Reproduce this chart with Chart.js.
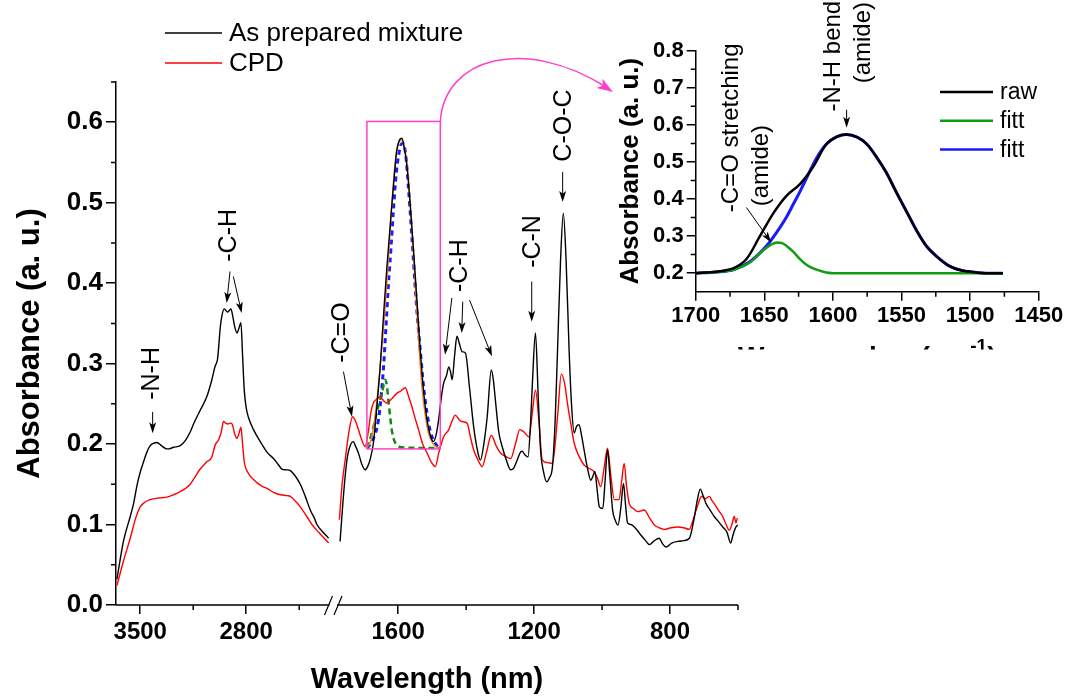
<!DOCTYPE html>
<html>
<head>
<meta charset="utf-8">
<script src="https://cdn.jsdelivr.net/npm/chart.js@4.4.1/dist/chart.umd.min.js"></script>
<style>
  html, body { margin: 0; padding: 0; background: #fff; }
  #wrap { position: relative; width: 1067px; height: 697px; }
  #wrap canvas { position: absolute; left: 0; top: 0; }
</style>
</head>
<body>
<div id="wrap">
  <canvas id="mainChart" width="1067" height="697"></canvas>
  <canvas id="insetChart" width="1067" height="697"></canvas>
</div>
<script>
const FONT = '"Liberation Sans", Arial, sans-serif';

// spectra, [wavenumber, absorbance]
const mixtureHigh = [[3654,0.032],[3610,0.08],[3566,0.11],[3544,0.126],[3520,0.15],[3500,0.165],[3478,0.178],[3456,0.19],[3434,0.198],[3412,0.201],[3390,0.202],[3360,0.198],[3324,0.194],[3313,0.194],[3280,0.196],[3236,0.198],[3200,0.205],[3170,0.215],[3148,0.225],[3104,0.242],[3060,0.259],[3027,0.28],[3005,0.297],[2990,0.305],[2983,0.318],[2972,0.344],[2960,0.36],[2945,0.368],[2934,0.366],[2923,0.364],[2912,0.366],[2901,0.368],[2890,0.36],[2875,0.345],[2861,0.338],[2848,0.344],[2835,0.351],[2824,0.31],[2813,0.267],[2800,0.245],[2785,0.233],[2752,0.218],[2707,0.203],[2663,0.19],[2620,0.182],[2590,0.175],[2564,0.169],[2535,0.168],[2509,0.167],[2475,0.16],[2443,0.15],[2410,0.135],[2377,0.118],[2350,0.108],[2333,0.1],[2300,0.092],[2256,0.083]];
const cpdHigh = [[3654,0.024],[3610,0.055],[3566,0.083],[3530,0.108],[3500,0.122],[3467,0.128],[3434,0.131],[3380,0.133],[3324,0.134],[3280,0.137],[3236,0.141],[3200,0.145],[3170,0.15],[3135,0.16],[3104,0.169],[3060,0.178],[3027,0.184],[3005,0.199],[2983,0.205],[2965,0.215],[2950,0.228],[2935,0.226],[2923,0.225],[2905,0.226],[2894,0.225],[2875,0.212],[2861,0.207],[2848,0.213],[2835,0.221],[2824,0.2],[2813,0.178],[2790,0.165],[2752,0.156],[2700,0.148],[2663,0.145],[2620,0.14],[2575,0.137],[2530,0.136],[2509,0.135],[2470,0.128],[2443,0.122],[2400,0.11],[2366,0.1],[2320,0.09],[2256,0.077]];
const mixtureLow = [[1771,0.079],[1763,0.125],[1756,0.16],[1749,0.185],[1742,0.197],[1732,0.203],[1725,0.197],[1717,0.189],[1707,0.175],[1697,0.168],[1690,0.172],[1683,0.18],[1673,0.201],[1663,0.245],[1653,0.296],[1643,0.36],[1633,0.421],[1619,0.495],[1610,0.54],[1604,0.566],[1596,0.578],[1589,0.58],[1582,0.568],[1574,0.545],[1565,0.5],[1555,0.442],[1545,0.38],[1535,0.317],[1525,0.265],[1515,0.23],[1505,0.21],[1496,0.203],[1488,0.212],[1481,0.23],[1473,0.258],[1466,0.276],[1458,0.285],[1451,0.296],[1446,0.29],[1441,0.28],[1434,0.31],[1427,0.334],[1420,0.325],[1412,0.315],[1402,0.313],[1390,0.27],[1378,0.222],[1368,0.195],[1358,0.18],[1348,0.2],[1338,0.234],[1326,0.292],[1320,0.28],[1314,0.255],[1304,0.215],[1294,0.197],[1280,0.178],[1269,0.168],[1260,0.17],[1250,0.18],[1240,0.19],[1235,0.191],[1226,0.186],[1218,0.184],[1210,0.23],[1205,0.276],[1196,0.338],[1188,0.26],[1181,0.193],[1172,0.165],[1163,0.153],[1155,0.158],[1146,0.172],[1138,0.23],[1131,0.317],[1122,0.43],[1114,0.487],[1106,0.43],[1097,0.317],[1090,0.25],[1082,0.214],[1075,0.222],[1068,0.224],[1060,0.21],[1053,0.193],[1043,0.17],[1033,0.155],[1027,0.16],[1021,0.166],[1015,0.145],[1008,0.122],[998,0.12],[991,0.155],[984,0.193],[977,0.16],[969,0.118],[961,0.105],[953,0.0995],[945,0.12],[937,0.151],[931,0.125],[925,0.102],[915,0.1],[905,0.097],[895,0.092],[886,0.087],[872,0.08],[861,0.075],[846,0.08],[832,0.083],[822,0.076],[812,0.072],[795,0.077],[777,0.079],[760,0.08],[743,0.083],[735,0.095],[728,0.11],[720,0.13],[711,0.144],[703,0.136],[694,0.126],[682,0.118],[670,0.11],[658,0.104],[645,0.097],[632,0.09],[622,0.077],[614,0.088],[606,0.097],[599,0.0995]];
const cpdLow = [[1773,0.106],[1765,0.15],[1756,0.18],[1745,0.215],[1734,0.234],[1725,0.228],[1717,0.218],[1707,0.205],[1697,0.197],[1688,0.215],[1680,0.24],[1673,0.251],[1663,0.256],[1653,0.259],[1643,0.254],[1633,0.251],[1620,0.256],[1604,0.263],[1592,0.266],[1579,0.27],[1570,0.26],[1560,0.247],[1550,0.232],[1540,0.218],[1528,0.2],[1515,0.189],[1503,0.178],[1491,0.172],[1480,0.19],[1466,0.209],[1451,0.218],[1442,0.228],[1432,0.236],[1420,0.23],[1412,0.228],[1397,0.226],[1388,0.21],[1378,0.193],[1365,0.18],[1353,0.172],[1340,0.19],[1326,0.211],[1312,0.198],[1299,0.189],[1285,0.185],[1269,0.182],[1255,0.2],[1242,0.218],[1230,0.215],[1215,0.209],[1205,0.24],[1196,0.267],[1186,0.23],[1176,0.18],[1161,0.177],[1146,0.176],[1131,0.234],[1120,0.287],[1110,0.275],[1102,0.251],[1092,0.225],[1082,0.201],[1068,0.185],[1053,0.174],[1039,0.17],[1024,0.166],[1014,0.158],[1004,0.147],[994,0.17],[984,0.195],[974,0.16],[964,0.131],[950,0.131],[942,0.155],[935,0.176],[928,0.148],[920,0.126],[908,0.12],[895,0.116],[876,0.118],[860,0.108],[846,0.0995],[832,0.096],[817,0.094],[797,0.096],[777,0.097],[760,0.096],[743,0.094],[735,0.102],[726,0.114],[716,0.127],[708,0.135],[696,0.132],[684,0.135],[677,0.13],[670,0.126],[658,0.118],[645,0.11],[635,0.1],[626,0.093],[618,0.1],[611,0.11],[606,0.102],[602,0.108]];

// peak fitting of the 1700-1475 band (drawn in the box and in the inset)
const fitSum = [[1692,0.196],[1680,0.205],[1665,0.245],[1650,0.31],[1640,0.36],[1630,0.42],[1620,0.49],[1610,0.545],[1600,0.572],[1590,0.578],[1580,0.565],[1570,0.53],[1560,0.47],[1550,0.4],[1540,0.33],[1530,0.27],[1520,0.235],[1510,0.212],[1500,0.202],[1490,0.197],[1476,0.195]];
const fitNH = [[1692,0.195],[1675,0.205],[1658,0.23],[1650,0.26],[1643,0.296],[1636,0.345],[1629,0.396],[1621,0.445],[1614,0.491],[1606,0.535],[1599,0.558],[1592,0.572],[1586,0.574],[1578,0.56],[1570,0.52],[1560,0.46],[1550,0.396],[1542,0.35],[1535,0.317],[1525,0.27],[1515,0.238],[1505,0.215],[1496,0.205],[1486,0.198],[1476,0.195]];
const fitCO = [[1692,0.195],[1680,0.21],[1668,0.23],[1658,0.248],[1648,0.263],[1643,0.273],[1638,0.28],[1633,0.272],[1629,0.255],[1624,0.236],[1619,0.218],[1612,0.205],[1604,0.199],[1590,0.196],[1476,0.195]];

const insetRaw = [[1700,0.2],[1685,0.204],[1672,0.214],[1663,0.238],[1653,0.301],[1643,0.364],[1634,0.408],[1624,0.44],[1614,0.489],[1605,0.547],[1597,0.568],[1590,0.574],[1582,0.566],[1575,0.547],[1568,0.512],[1561,0.471],[1554,0.42],[1546,0.364],[1539,0.315],[1532,0.274],[1524,0.244],[1515,0.219],[1506,0.207],[1498,0.203],[1487,0.2],[1476,0.2]];
const insetFitCO = [[1700,0.2],[1685,0.203],[1672,0.21],[1660,0.23],[1651,0.261],[1645,0.277],[1641,0.283],[1637,0.281],[1634,0.274],[1629,0.258],[1624,0.238],[1619,0.222],[1614,0.212],[1607,0.204],[1600,0.2],[1476,0.2]];
const insetFitNH = [[1700,0.2],[1685,0.203],[1672,0.21],[1660,0.232],[1648,0.275],[1641,0.31],[1634,0.35],[1629,0.385],[1624,0.42],[1619,0.458],[1612,0.51],[1605,0.547],[1597,0.568],[1590,0.574],[1582,0.566],[1575,0.547],[1568,0.512],[1561,0.471],[1554,0.42],[1546,0.364],[1539,0.315],[1532,0.274],[1524,0.244],[1515,0.219],[1506,0.207],[1498,0.203],[1487,0.2],[1476,0.2]];

const seriesNames = ['As prepared mixture', 'CPD'];
const insetNames = ['raw', 'fitt', 'fitt'];

// ticks
const xTicksHigh = [3500, 3150, 2800, 2450];
const xTicksLow = [1600, 1400, 1200, 1000, 800, 600];
const xLabels = [3500, 2800, 1600, 1200, 800];
const absLabels = [0.0, 0.1, 0.2, 0.3, 0.4, 0.5, 0.6];
const insetWnLabels = [1700, 1650, 1600, 1550, 1500, 1450];
const insetAbsLabels = [0.2, 0.3, 0.4, 0.5, 0.6, 0.7, 0.8];

// zoomed window shown in the inset
const zoomWn = [1692, 1476];
const zoomAbs = [0.194, 0.601];

// broken x axis: two wavenumber windows put side by side on one linear scale
const axisHigh = { from: 3660, to: 2250, start: 0, end: 213.5 };
const axisLow = { from: 1780, to: 600, start: 221, end: 622 };
function toAxis(w) {
  const s = w >= 2000 ? axisHigh : axisLow;
  return s.start + (s.from - w) / (s.from - s.to) * (s.end - s.start);
}
const pts = arr => arr.map(([w, a]) => ({ x: toAxis(w), y: a }));
const ipts = arr => arr.map(([w, a]) => ({ x: w, y: a }));

const near = (list, v, f = t => t) => list.find(t => Math.abs(f(t) - v) < 1e-6);
const isMainX = v => near(xLabels, v, toAxis) !== undefined;
const isMainY = v => near(absLabels, v) !== undefined;
const isInsetX = v => insetWnLabels.includes(v);
const isInsetY = v => near(insetAbsLabels, v) !== undefined;

// labels on the spectrum: [wavenumber, absorbance] for text foot and arrows
const mainNotes = [
  { text: '-N-H', at: [3419, 0.255], arrows: [[3418, 0.24, 3418, 0.2135]] },
  { text: '-C-H', at: [2910, 0.4266], arrows: [[2907, 0.4145, 2929, 0.3753], [2885, 0.4083, 2830, 0.3628]] },
  { text: '-C=O', at: [1765, 0.301], arrows: [[1761, 0.29, 1736, 0.234]] },
  { text: '-C-H', at: [1418, 0.389], arrows: [[1442, 0.3815, 1462, 0.311], [1410, 0.377, 1413, 0.338], [1390, 0.379, 1324, 0.309]] },
  { text: '-C-N', at: [1203, 0.419], arrows: [[1207, 0.402, 1207, 0.352]] },
  { text: 'C-O-C', at: [1112, 0.551], arrows: [[1116, 0.538, 1116, 0.501]] }
];
const insetNotes = [
  { text: '-C=O stretching', at: [1674, 0.3644], arrows: [] },
  { text: '(amide)', at: [1652, 0.3805], arrows: [[1663, 0.377, 1645, 0.283]] },
  { text: '-N-H bending', at: [1600, 0.636], arrows: [] },
  { text: '(amide)', at: [1578, 0.712], arrows: [[1590, 0.6407, 1590, 0.5924]] }
];

function arrowHead(ctx, fromX, fromY, x1, y1, len, half) {
  const a = Math.atan2(y1 - fromY, x1 - fromX), c = Math.cos(a), s = Math.sin(a);
  ctx.beginPath();
  ctx.moveTo(x1, y1);
  ctx.lineTo(x1 - len * c + half * s, y1 - len * s - half * c);
  ctx.lineTo(x1 - len * c * 0.75, y1 - len * s * 0.75);
  ctx.lineTo(x1 - len * c - half * s, y1 - len * s + half * c);
  ctx.closePath();
  ctx.fill();
}

function arrow(ctx, x0, y0, x1, y1, len = 11, half = 3.5) {
  const a = Math.atan2(y1 - y0, x1 - x0);
  ctx.beginPath();
  ctx.moveTo(x0, y0);
  ctx.lineTo(x1 - len * Math.cos(a) * 0.7, y1 - len * Math.sin(a) * 0.7);
  ctx.stroke();
  arrowHead(ctx, x0, y0, x1, y1, len, half);
}

function drawNotes(ctx, notes, fx, fy, size) {
  ctx.fillStyle = '#000';
  ctx.strokeStyle = '#000';
  ctx.lineWidth = 1;
  ctx.font = size + 'px ' + FONT;
  for (const n of notes) {
    ctx.save();
    ctx.translate(fx(n.at[0]), fy(n.at[1]));
    ctx.rotate(-Math.PI / 2);
    ctx.textAlign = 'left';
    ctx.textBaseline = 'middle';
    ctx.fillText(n.text, 0, 0);
    ctx.restore();
    for (const a of n.arrows) arrow(ctx, fx(a[0]), fy(a[1]), fx(a[2]), fy(a[3]));
  }
}

function drawLegend(ctx, items, x0, x1, y0, step, size, width) {
  ctx.font = size + 'px ' + FONT;
  ctx.textAlign = 'left';
  ctx.textBaseline = 'middle';
  items.forEach((it, i) => {
    const y = y0 + i * step;
    ctx.strokeStyle = it.color;
    ctx.lineWidth = width;
    ctx.beginPath(); ctx.moveTo(x0, y); ctx.lineTo(x1, y); ctx.stroke();
    ctx.fillStyle = '#000';
    ctx.fillText(it.label, x1 + 7, y + 1);
  });
}

// short ticks for the unlabelled positions (labelled ones come from the grid)
function minorTicks(chart, majorX, majorY, len) {
  const { ctx, chartArea, scales: { x, y } } = chart;
  ctx.strokeStyle = '#000';
  ctx.lineWidth = 1.5;
  ctx.beginPath();
  for (const t of x.ticks) {
    if (majorX(t.value)) continue;
    const p = x.getPixelForValue(t.value);
    ctx.moveTo(p, chartArea.bottom); ctx.lineTo(p, chartArea.bottom + len);
  }
  for (const t of y.ticks) {
    if (majorY(t.value)) continue;
    const p = y.getPixelForValue(t.value);
    ctx.moveTo(chartArea.left, p); ctx.lineTo(chartArea.left - len, p);
  }
  ctx.stroke();
}

const mainDecor = {
  id: 'mainDecor',
  afterDraw(chart) {
    const { ctx, chartArea, scales: { x, y } } = chart;
    const fx = w => x.getPixelForValue(toAxis(w));
    const fy = a => y.getPixelForValue(a);
    ctx.save();
    minorTicks(chart, isMainX, isMainY, 5);

    // broken axis line with // marks
    const base = chartArea.bottom;
    const gapL = x.getPixelForValue(axisHigh.end);
    const gapR = x.getPixelForValue(axisLow.start);
    ctx.strokeStyle = '#000';
    ctx.lineWidth = 1.5;
    ctx.beginPath();
    ctx.moveTo(chartArea.left, base); ctx.lineTo(gapL, base);
    ctx.moveTo(gapR, base); ctx.lineTo(chartArea.right, base);
    ctx.stroke();
    ctx.lineWidth = 1.2;
    ctx.beginPath();
    ctx.moveTo(gapL - 5, base + 10); ctx.lineTo(gapL + 3, base - 9);
    ctx.moveTo(gapR - 3, base + 10); ctx.lineTo(gapR + 5, base - 9);
    ctx.stroke();

    // zoom box and the curved arrow towards the inset
    const bx0 = fx(zoomWn[0]), bx1 = fx(zoomWn[1]);
    const by0 = fy(zoomAbs[1]), by1 = fy(zoomAbs[0]);
    ctx.strokeStyle = '#ff40cc';
    ctx.fillStyle = '#ff40cc';
    ctx.lineWidth = 1.5;
    ctx.strokeRect(bx0, by0, bx1 - bx0, by1 - by0);
    ctx.beginPath();
    ctx.moveTo(bx1, by0);
    ctx.bezierCurveTo(bx1 + 4, by0 - 64, 525, 36, 606, 87);
    ctx.stroke();
    arrowHead(ctx, 525, 36, 613, 92, 16, 5.5);

    drawNotes(ctx, mainNotes, fx, fy, 25);

    drawLegend(ctx, [
      { label: seriesNames[0], color: '#000' },
      { label: seriesNames[1], color: '#ff0000' }
    ], 165, 222, 33, 30, 26, 1.5);
    ctx.restore();
  }
};

const insetDecor = {
  id: 'insetDecor',
  afterDraw(chart) {
    const { ctx, chartArea, scales: { x, y } } = chart;
    ctx.save();
    minorTicks(chart, isInsetX, isInsetY, 5);
    drawNotes(ctx, insetNotes, w => x.getPixelForValue(w), a => y.getPixelForValue(a), 24);
    drawLegend(ctx, [
      { label: insetNames[0], color: '#000' },
      { label: insetNames[1], color: '#129c12' },
      { label: insetNames[2], color: '#1a1aff' }
    ], 940, 993, 92, 28.7, 23, 2.5);

    // axis title, mostly hidden in the original figure
    const cx = (chartArea.left + chartArea.right) / 2;
    ctx.beginPath();
    ctx.rect(chartArea.left - 60, 330, 420, 19.5);
    ctx.clip();
    ctx.fillStyle = '#000';
    ctx.textBaseline = 'alphabetic';
    ctx.textAlign = 'left';
    const head = 'Wavenumber (cm', sup = '-1', tail = ')';
    ctx.font = 'bold 28px ' + FONT;
    const wHead = ctx.measureText(head).width, wTail = ctx.measureText(tail).width;
    ctx.font = 'bold 19px ' + FONT;
    const wSup = ctx.measureText(sup).width;
    const sx = cx - (wHead + wSup + wTail) / 2;
    ctx.font = 'bold 28px ' + FONT;
    ctx.fillText(head, sx, 366);
    ctx.font = 'bold 19px ' + FONT;
    ctx.fillText(sup, sx + wHead, 352);
    ctx.font = 'bold 28px ' + FONT;
    ctx.fillText(tail, sx + wHead + wSup, 366);
    ctx.restore();
  }
};

const lineDefaults = { pointRadius: 0, fill: false, cubicInterpolationMode: 'monotone' };
const tickInk = major => c => (c.tick && major(c.tick.value)) ? '#000' : 'rgba(0,0,0,0)';

new Chart(document.getElementById('mainChart'), {
  type: 'line',
  data: {
    datasets: [
      { ...lineDefaults, data: pts(mixtureHigh), borderColor: '#000', borderWidth: 1.4 },
      { ...lineDefaults, data: pts(mixtureLow), borderColor: '#000', borderWidth: 1.4 },
      { ...lineDefaults, data: pts(cpdHigh), borderColor: '#ff0000', borderWidth: 1.4 },
      { ...lineDefaults, data: pts(cpdLow), borderColor: '#ff0000', borderWidth: 1.4 },
      { ...lineDefaults, data: pts(fitSum), borderColor: '#f08020', borderWidth: 1.4 },
      { ...lineDefaults, data: pts(fitCO), borderColor: '#128a12', borderWidth: 2.5, borderDash: [6, 4] },
      { ...lineDefaults, data: pts(fitNH), borderColor: '#1a1aff', borderWidth: 3, borderDash: [5, 4] }
    ]
  },
  options: {
    responsive: false,
    animation: false,
    layout: { padding: { left: 0, top: 82, right: 329, bottom: 0 } },
    plugins: { legend: { display: false }, tooltip: { enabled: false } },
    scales: {
      x: {
        type: 'linear',
        min: 0,
        max: 622,
        border: { display: false },
        grid: { drawOnChartArea: false, color: '#000', tickColor: tickInk(isMainX), lineWidth: 1.5, tickLength: 9 },
        afterBuildTicks: s => { s.ticks = [...xTicksHigh, ...xTicksLow].map(w => ({ value: toAxis(w) })); },
        afterFit: s => { s.height = 92; },
        ticks: {
          autoSkip: false, maxRotation: 0, padding: 4, color: '#000',
          font: { family: FONT, size: 24, weight: 'bold' },
          callback: v => {
            const w = near(xLabels, v, toAxis);
            return w === undefined ? '' : String(w);
          }
        },
        title: {
          display: true, text: 'Wavelength (nm)', color: '#000',
          font: { family: FONT, size: 29, weight: 'bold' },
          padding: { top: 0, bottom: 0 }
        }
      },
      y: {
        min: 0,
        max: 0.65,
        border: { display: true, color: '#000', width: 1.5 },
        grid: { drawOnChartArea: false, color: '#000', tickColor: tickInk(isMainY), lineWidth: 1.5, tickLength: 10 },
        afterFit: s => { s.width = 116; },
        ticks: {
          stepSize: 0.05, autoSkip: false, padding: 3, color: '#000',
          font: { family: FONT, size: 26, weight: 'bold' },
          callback: v => {
            const l = near(absLabels, v);
            return l === undefined ? '' : l.toFixed(1);
          }
        },
        title: {
          display: true, text: 'Absorbance (a. u.)', color: '#000',
          font: { family: FONT, size: 31, weight: 'bold' },
          padding: { top: 12, bottom: 0 }
        }
      }
    }
  },
  plugins: [mainDecor]
});

new Chart(document.getElementById('insetChart'), {
  type: 'line',
  data: {
    datasets: [
      { ...lineDefaults, data: ipts(insetRaw), borderColor: '#000', borderWidth: 2.5 },
      { ...lineDefaults, data: ipts(insetFitCO), borderColor: '#129c12', borderWidth: 2.5 },
      { ...lineDefaults, data: ipts(insetFitNH), borderColor: '#1a1aff', borderWidth: 3 }
    ]
  },
  options: {
    responsive: false,
    animation: false,
    layout: { padding: { left: 600.7, top: 50.7, right: 28.3, bottom: 345.3 } },
    plugins: { legend: { display: false }, tooltip: { enabled: false } },
    scales: {
      x: {
        type: 'linear',
        min: 1450,
        max: 1700,
        reverse: true,
        border: { display: true, color: '#000', width: 1.5 },
        grid: { drawOnChartArea: false, color: '#000', tickColor: tickInk(isInsetX), lineWidth: 1.5, tickLength: 9 },
        afterFit: s => { s.height = 60; },
        ticks: {
          stepSize: 25, autoSkip: false, maxRotation: 0, padding: 2, color: '#000',
          font: { family: FONT, size: 22, weight: 'bold' },
          callback: v => isInsetX(v) ? String(v) : ''
        }
      },
      y: {
        min: 0.15,
        max: 0.8,
        border: { display: true, color: '#000', width: 1.5 },
        grid: { drawOnChartArea: false, color: '#000', tickColor: tickInk(isInsetY), lineWidth: 1.5, tickLength: 9 },
        afterFit: s => { s.width = 95; },
        afterBuildTicks: s => {
          const t = [];
          insetAbsLabels.forEach((v, i) => {
            t.push({ value: v });
            if (i < insetAbsLabels.length - 1) t.push({ value: (v + insetAbsLabels[i + 1]) / 2 });
          });
          s.ticks = t;
        },
        ticks: {
          autoSkip: false, padding: 3, color: '#000',
          font: { family: FONT, size: 22, weight: 'bold' },
          callback: v => {
            const l = near(insetAbsLabels, v);
            return l === undefined ? '' : l.toFixed(1);
          }
        },
        title: {
          display: true, text: 'Absorbance (a. u.)', color: '#000',
          font: { family: FONT, size: 26, weight: 'bold' },
          padding: { top: 15, bottom: 0 }
        }
      }
    }
  },
  plugins: [insetDecor]
});
</script>
</body>
</html>
